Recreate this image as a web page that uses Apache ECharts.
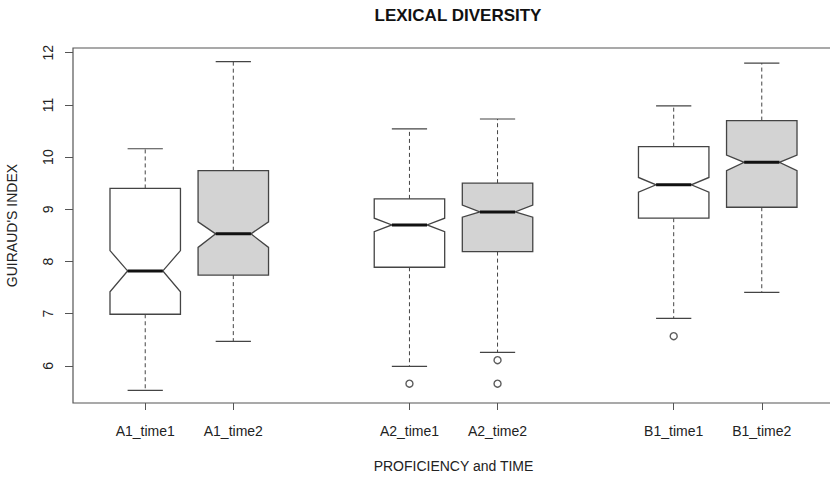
<!DOCTYPE html>
<html>
<head>
<meta charset="utf-8">
<script src="https://cdn.jsdelivr.net/npm/echarts@6/dist/echarts.min.js"></script>
<style>html,body{margin:0;padding:0;background:#fff}#c{width:830px;height:477px}</style>
</head>
<body>
<div id="c"></div>
<script>
// ---- data ----
var categories = ['A1_time1', 'A1_time2', 'A2_time1', 'A2_time2', 'B1_time1', 'B1_time2'];
var boxAt = [1, 2, 4, 5, 7, 8];
var whiskerLow  = [5.53, 6.47, 5.99, 6.26, 6.91, 7.41];
var q1          = [6.99, 7.74, 7.89, 8.19, 8.83, 9.04];
var notchLow    = [7.42, 8.27, 8.57, 8.85, 9.33, 9.74];
var median      = [7.82, 8.53, 8.70, 8.95, 9.47, 9.90];
var notchHigh   = [8.21, 8.76, 8.83, 9.08, 9.61, 10.04];
var q3          = [9.40, 9.74, 9.20, 9.50, 10.20, 10.70];
var whiskerHigh = [10.16, 11.83, 10.54, 10.73, 10.98, 11.80];
var outlierBox   = [2, 3, 3, 4];
var outlierValue = [5.66, 6.11, 5.66, 6.57];
var yTicks = [6, 7, 8, 9, 10, 11, 12];

// ---- build ----
var boxData = categories.map(function (c, i) {
  return [boxAt[i], whiskerLow[i], q1[i], notchLow[i], median[i], notchHigh[i], q3[i], whiskerHigh[i], i];
});
var outData = outlierBox.map(function (b, i) { return [boxAt[b], outlierValue[i]]; });

var FONT = 'Liberation Sans, Arial, sans-serif';
var LINE = '#444444';

function renderBox(params, api) {
  var x = api.value(0);
  var idx = api.value(8);
  var hw = api.size([0.4, 0])[0];
  var cw = api.size([0.2, 0])[0];
  var c = api.coord([x, api.value(4)])[0];
  function Y(v) { return api.coord([x, v])[1]; }
  var yWL = Y(api.value(1)), yQ1 = Y(api.value(2)), yNL = Y(api.value(3)),
      yMed = Y(api.value(4)), yNH = Y(api.value(5)), yQ3 = Y(api.value(6)), yWH = Y(api.value(7));
  var fill = (idx % 2 === 1) ? '#d3d3d3' : '#ffffff';
  var dash = { stroke: LINE, lineWidth: 1, lineDash: [4, 3] };
  var solid = { stroke: LINE, lineWidth: 1.2 };
  return {
    type: 'group',
    children: [
      { type: 'line', shape: { x1: c, y1: yQ3, x2: c, y2: yWH }, style: dash },
      { type: 'line', shape: { x1: c, y1: yQ1, x2: c, y2: yWL }, style: dash },
      { type: 'line', shape: { x1: c - cw, y1: yWH, x2: c + cw, y2: yWH }, style: solid },
      { type: 'line', shape: { x1: c - cw, y1: yWL, x2: c + cw, y2: yWL }, style: solid },
      { type: 'polygon', shape: { points: [
          [c - hw, yQ1], [c + hw, yQ1], [c + hw, yNL], [c + hw / 2, yMed], [c + hw, yNH],
          [c + hw, yQ3], [c - hw, yQ3], [c - hw, yNH], [c - hw / 2, yMed], [c - hw, yNL]
        ] }, style: { fill: fill, stroke: LINE, lineWidth: 1.3 } },
      { type: 'line', shape: { x1: c - hw / 2, y1: yMed, x2: c + hw / 2, y2: yMed }, style: { stroke: '#111', lineWidth: 3 } }
    ]
  };
}

var chart = echarts.init(document.getElementById('c'), null, { renderer: 'svg' });
chart.setOption({
  animation: false,
  backgroundColor: '#ffffff',
  title: {
    text: 'LEXICAL DIVERSITY', left: 453, top: 2, textAlign: 'center',
    textStyle: { fontFamily: FONT, fontSize: 17, fontWeight: 'bold', color: '#111' }
  },
  grid: { left: 73, top: 48, width: 761, height: 355, outerBoundsMode: 'none', containLabel: false,
    show: true, borderColor: '#555', borderWidth: 1.2, backgroundColor: 'transparent' },
  xAxis: {
    type: 'value', min: 0.18, max: 8.82,
    axisLine: { show: false }, splitLine: { show: false },
    axisTick: { show: true, length: 7, customValues: boxAt, lineStyle: { color: '#555' } },
    axisLabel: { customValues: boxAt, margin: 21, fontSize: 14, color: '#222', fontFamily: FONT,
      formatter: function (v) { var k = boxAt.indexOf(v); return k >= 0 ? categories[k] : ''; } },
    name: 'PROFICIENCY and TIME', nameLocation: 'middle', nameGap: 56,
    nameTextStyle: { fontSize: 14, color: '#222', fontFamily: FONT }
  },
  yAxis: {
    type: 'value', min: 5.29, max: 12.09,
    axisLine: { show: false }, splitLine: { show: false },
    axisTick: { show: true, length: 8, customValues: yTicks, lineStyle: { color: '#555' } },
    axisLabel: { customValues: yTicks, rotate: 90, margin: 18, fontSize: 14, color: '#222', fontFamily: FONT },
    name: "GUIRAUD'S INDEX", nameLocation: 'middle', nameGap: 54, nameRotate: 90,
    nameTextStyle: { fontSize: 14, color: '#222', fontFamily: FONT }
  },
  series: [
    { type: 'custom', renderItem: renderBox, data: boxData, encode: { x: 0, y: [1, 7] }, z: 2 },
    { type: 'scatter', data: outData, symbol: 'circle', symbolSize: 7,
      itemStyle: { color: '#fff', borderColor: '#333', borderWidth: 1.4 }, z: 3 }
  ]
});
</script>
</body>
</html>
